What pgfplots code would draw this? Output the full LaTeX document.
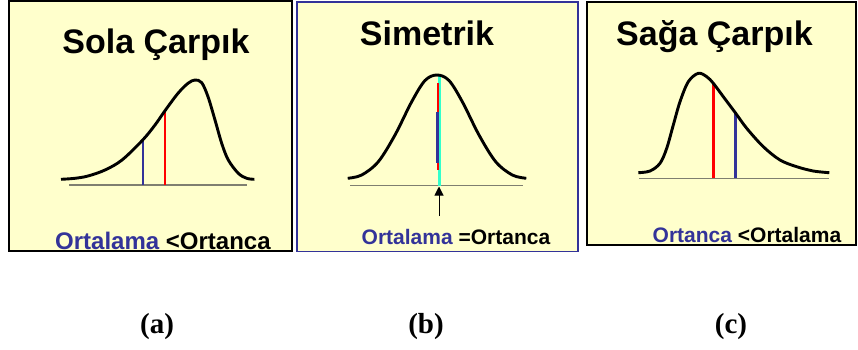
\documentclass[border=0pt]{standalone}
\usepackage{pgfplots}
\pgfplotsset{compat=1.18}
\usetikzlibrary{arrows.meta}
\usepackage{fontspec}
\setmainfont{Liberation Sans}
\newfontfamily\timesfont{Liberation Serif}
\definecolor{bgyellow}{HTML}{FFFFCC}
\definecolor{myblue}{HTML}{333399}
\definecolor{mycyan}{HTML}{33FFCC}
\definecolor{basegray}{HTML}{7F7F70}
\definecolor{myred}{HTML}{FF0000}
\pgfplotsset{
  panel/.style={
    scale only axis, clip=false,
    y dir=reverse,
    xtick=\empty, ytick=\empty,
    axis background/.style={fill=bgyellow},
    anchor=north west,
  },
  curve/.style={black, line width=2.9pt, smooth, tension=0.55, no marks},
  vline/.style={line width=2.4pt, no marks},
  base/.style={basegray, line width=1.4pt, no marks},
}
\begin{document}
\begin{tikzpicture}[x=1pt,y=1pt]
\path[use as bounding box] (0,0) rectangle (858,-350);
% Panel (a)
\begin{axis}[panel, at={(9pt,-1pt)}, width=283pt, height=250pt,
  xmin=9, xmax=292, ymin=1, ymax=251,
  axis line style={black, line width=1.5pt}]
\addplot[base] coordinates {(69,185) (247,185)};
\addplot[vline, myblue] coordinates {(142.7,139.5) (142.7,185)};
\addplot[vline, myred] coordinates {(165,110) (165,185)};
\addplot[curve] coordinates {
(61,179.3) (75,178.3) (88,176) (105,170) (122,160) (142.7,140) (155,125)
(165,110.7) (178,93.3) (188,83.3) (195,80) (201.7,82.7) (208,96.7) (215,120)
(221.7,143.3) (228.3,160) (238.3,173.3) (246.7,178.3) (254.3,179.3)};
\node[anchor=base, font=\fontsize{34}{34}\selectfont\bfseries] at (axis cs:156,53.3) {Sola Çarpık};
\node[anchor=base west, inner sep=0pt, font=\fontsize{24}{24}\selectfont\bfseries] at (axis cs:55,249.5) {\textcolor{myblue}{Ortalama} <Ortanca};
\end{axis}
% Panel (b)
\begin{axis}[panel, at={(297pt,-2pt)}, width=281pt, height=249.5pt,
  xmin=297, xmax=578, ymin=2, ymax=251.5,
  axis line style={myblue, line width=1.5pt}]
\addplot[base] coordinates {(350,185.5) (523.3,185.5)};
\addplot[vline, mycyan, line width=2.6pt] coordinates {(439.3,74.5) (439.3,186)};
\addplot[vline, myred] coordinates {(438,83.3) (438,170)};
\addplot[vline, myblue] coordinates {(437.3,111.7) (437.3,162.7)};
\addplot[curve] coordinates {
(347.7,178.3) (361.7,175) (378.3,161.7) (395,135) (411.7,101.7) (425,80.5)
(437,75) (449,80.5) (462.3,101.7) (479,135) (495.7,161.7) (512.3,175) (526.3,178.3)};
\addplot[black, line width=1pt, no marks, -{Triangle[width=9pt,length=9pt]}] coordinates {(439,216) (439,186.5)};
\node[anchor=base, font=\fontsize{34}{34}\selectfont\bfseries] at (axis cs:427,45) {Simetrik};
\node[anchor=base west, inner sep=0pt, font=\fontsize{21}{21}\selectfont\bfseries] at (axis cs:361.5,244) {\textcolor{myblue}{Ortalama} =Ortanca};
\end{axis}
% Panel (c)
\begin{axis}[panel, at={(587pt,-2pt)}, width=269pt, height=243pt,
  xmin=587, xmax=856, ymin=2, ymax=245,
  axis line style={black, line width=1.5pt}]
\addplot[base] coordinates {(639.3,178.3) (829.3,178.3)};
\addplot[vline, myred] coordinates {(713.3,83) (713.3,178.3)};
\addplot[vline, myblue] coordinates {(735.3,112.5) (735.3,178.3)};
\addplot[curve] coordinates {
(638.3,172.7) (650,171) (660,163.3) (666.7,148.3) (673.3,125) (680,101.7)
(688.3,81.7) (698.3,73.3) (706.7,76.7) (713.3,83.3) (723.3,96.7) (735.3,112.7)
(746.7,128.3) (763.3,146.7) (780,160) (796.7,166.7) (813.3,171) (829.3,172.7)};
\node[anchor=base, font=\fontsize{34}{34}\selectfont\bfseries] at (axis cs:714.5,45) {Sağa Çarpık};
\node[anchor=base west, inner sep=0pt, font=\fontsize{21}{21}\selectfont\bfseries] at (axis cs:652.5,242.5) {\textcolor{myblue}{Ortanca} <Ortalama};
\end{axis}
% sub-figure labels
\node[anchor=base, font=\timesfont\fontsize{29}{29}\selectfont\bfseries] at (157,-333) {(a)};
\node[anchor=base, font=\timesfont\fontsize{29}{29}\selectfont\bfseries] at (426,-333) {(b)};
\node[anchor=base, font=\timesfont\fontsize{29}{29}\selectfont\bfseries] at (731,-333) {(c)};
\end{tikzpicture}
\end{document}
